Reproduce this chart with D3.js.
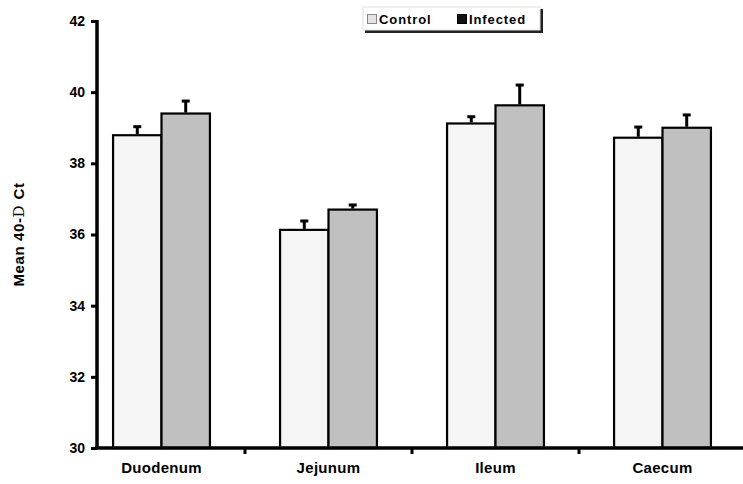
<!DOCTYPE html>
<html>
<head>
<meta charset="utf-8">
<script src="https://cdn.jsdelivr.net/npm/d3@7/dist/d3.min.js"></script>
<style>
  body { margin: 0; background: #fff; }
  text { font-family: Arial, "Liberation Sans", sans-serif; font-weight: bold; fill: #000; }
</style>
</head>
<body>
<div id="chart"></div>
<script>
// data
const sites = ['Duodenum', 'Jejunum', 'Ileum', 'Caecum'];
const groups = ['Control', 'Infected'];
const controlMean = [38.79, 36.13, 39.12, 38.72];
const controlErr = [0.24, 0.25, 0.19, 0.30];
const infectedMean = [39.40, 36.70, 39.63, 39.00];
const infectedErr = [0.35, 0.13, 0.57, 0.36];
const yTicks = [30, 32, 34, 36, 38, 40, 42];

const W = 743, H = 484;
const colors = { Control: '#f5f5f5', Infected: '#c0c0c0' };

const rows = [];
sites.forEach((s, i) => {
    rows.push({ site: s, group: 'Control', v: controlMean[i], e: controlErr[i] });
    rows.push({ site: s, group: 'Infected', v: infectedMean[i], e: infectedErr[i] });
});

const svg = d3.select('#chart').append('svg').attr('width', W).attr('height', H);

const y = d3.scaleLinear().domain([30, 42]).range([448, 21]);
const x = d3.scaleBand().domain(sites).range([78, 746]).paddingInner(0.42).paddingOuter(0.21);
const x1 = d3.scaleBand().domain(groups).range([0, x.bandwidth()]);
const axisX0 = 97;

// bars
svg.append('g').selectAll('rect').data(rows).join('rect')
    .attr('x', d => x(d.site) + x1(d.group))
    .attr('y', d => y(d.v))
    .attr('width', x1.bandwidth())
    .attr('height', d => y(30) - y(d.v))
    .attr('fill', d => colors[d.group])
    .attr('stroke', '#000').attr('stroke-width', 2.2);

// error bars (upper only)
const eb = svg.append('g').selectAll('g').data(rows).join('g')
    .attr('transform', d => `translate(${x(d.site) + x1(d.group) + x1.bandwidth() / 2},0)`);
eb.append('line')
    .attr('y1', d => y(d.v) - 1).attr('y2', d => y(d.v + d.e))
    .attr('stroke', '#000').attr('stroke-width', 3);
eb.append('line')
    .attr('x1', -4).attr('x2', 4)
    .attr('y1', d => y(d.v + d.e)).attr('y2', d => y(d.v + d.e))
    .attr('stroke', '#000').attr('stroke-width', 3);

// y axis
const yAxis = svg.append('g').attr('transform', `translate(${axisX0},0)`)
    .call(d3.axisLeft(y).tickValues(yTicks).tickSize(6).tickPadding(6));
yAxis.select('.domain').attr('d', `M0,${y(42) - 1}V${y(30)}`).attr('stroke-width', 3.5);
yAxis.selectAll('.tick line').attr('stroke-width', 3);
yAxis.selectAll('.tick text')
    .style('font-size', '14px').style('font-weight', 'bold')
    .style('font-family', 'Arial, "Liberation Sans", sans-serif');

// x axis
const xAxis = svg.append('g').attr('transform', `translate(0,${y(30)})`);
xAxis.append('line').attr('x1', axisX0 - 2).attr('x2', W)
    .attr('stroke', '#000').attr('stroke-width', 3.5);
xAxis.selectAll('.sep').data(sites).join('line')
    .attr('x1', d => x(d) + x.bandwidth() + x.step() * x.paddingInner() / 2)
    .attr('x2', d => x(d) + x.bandwidth() + x.step() * x.paddingInner() / 2)
    .attr('y1', 0).attr('y2', 6)
    .attr('stroke', '#000').attr('stroke-width', 3);
xAxis.selectAll('.lbl').data(sites).join('text')
    .attr('x', d => x(d) + x.bandwidth() / 2)
    .attr('y', 25)
    .attr('text-anchor', 'middle')
    .style('font-size', '15px')
    .attr('letter-spacing', 0.3)
    .text(d => d);

// y title
const yt = svg.append('text')
    .attr('transform', `translate(24,${(y(30) + y(42)) / 2}) rotate(-90)`)
    .attr('text-anchor', 'middle')
    .style('font-size', '15px')
    .attr('letter-spacing', 0.6);
yt.append('tspan').text('Mean  40-');
yt.append('tspan').text('D ').style('font-family', '"DejaVu Serif", serif').style('font-weight', 'normal');
yt.append('tspan').text('Ct');

// legend
const lg = svg.append('g').attr('transform', 'translate(363,7)');
lg.append('rect').attr('x', 2).attr('y', 2).attr('width', 178).attr('height', 24).attr('fill', '#222');
lg.append('rect').attr('width', 177).attr('height', 23).attr('fill', '#fff').attr('stroke', '#ddd');
const items = lg.selectAll('g').data(groups).join('g')
    .attr('transform', (d, i) => `translate(${i === 0 ? 4 : 94},0)`);
items.append('rect').attr('x', 0.5).attr('y', 7.5).attr('width', 9).attr('height', 9)
    .attr('fill', d => d === 'Control' ? '#e4e4e4' : '#111')
    .attr('stroke', d => d === 'Control' ? '#888' : '#000');
items.append('text').attr('x', 12).attr('y', 17).style('font-size', '13px')
    .attr('letter-spacing', 0.9).text(d => d);
</script>
</body>
</html>
